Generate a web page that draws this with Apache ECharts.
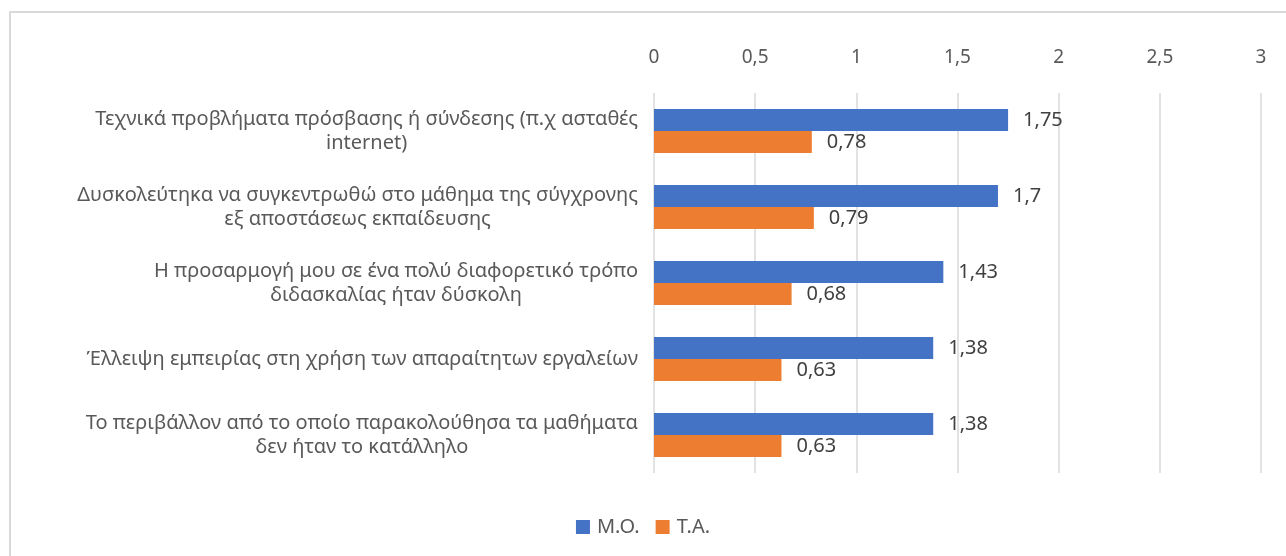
<!DOCTYPE html>
<html>
<head>
<meta charset="utf-8">
<script src="https://cdn.jsdelivr.net/npm/echarts@6/dist/echarts.min.js"></script>
<style>
  body { margin: 0; background: #fff; }
  #frame { position: absolute; left: 9px; top: 11px; right: 0; bottom: 0; border-top: 2px solid #d9d9d9; border-left: 2px solid #d9d9d9; }
  #chart { position: absolute; left: 0; top: 0; width: 1286px; height: 556px; }
</style>
</head>
<body>
<div id="frame"></div>
<div id="chart"></div>
<script>
// κατηγορίες (από πάνω προς τα κάτω)
const categories = [
  'Τεχνικά προβλήματα πρόσβασης ή σύνδεσης (π.χ ασταθές\ninternet)',
  'Δυσκολεύτηκα να συγκεντρωθώ στο μάθημα της σύγχρονης\nεξ αποστάσεως εκπαίδευσης',
  'Η προσαρμογή μου σε ένα πολύ διαφορετικό τρόπο\nδιδασκαλίας ήταν δύσκολη',
  'Έλλειψη εμπειρίας στη χρήση των απαραίτητων εργαλείων',
  'Το περιβάλλον από το οποίο παρακολούθησα τα μαθήματα\nδεν ήταν το κατάλληλο'
]
const meanValues = [1.75, 1.7, 1.43, 1.38, 1.38]
const sdValues = [0.78, 0.79, 0.68, 0.63, 0.63]
const seriesNames = ['Μ.Ο.', 'Τ.Α.']

const font = 'Noto Sans'
const comma = v => String(v).replace('.', ',')

const myChart = echarts.init(document.getElementById('chart'))

const barLabel = {
  show: true,
  position: 'right',
  distance: 15,
  color: '#404040',
  fontFamily: font,
  fontSize: 20,
  formatter: p => comma(p.value)
}

const option = {
  animation: false,
  textStyle: { fontFamily: font },
  color: ['#4472C4', '#ED7D31'],
  grid: {
    left: 654,
    right: 25,
    top: 93,
    bottom: 83
  },
  legend: {
    data: seriesNames,
    bottom: 14,
    left: 'center',
    itemWidth: 14,
    itemHeight: 14,
    itemGap: 16,
    icon: 'rect',
    textStyle: { color: '#595959', fontSize: 20, fontFamily: font, padding: [0, 0, 0, 2] }
  },
  xAxis: {
    type: 'value',
    position: 'top',
    min: 0,
    max: 3,
    interval: 0.5,
    axisLine: { show: false },
    axisTick: { show: false },
    splitLine: { lineStyle: { color: '#d9d9d9', width: 1.5 } },
    axisLabel: {
      color: '#595959',
      fontSize: 19,
      fontFamily: font,
      margin: 26,
      formatter: v => comma(v)
    }
  },
  yAxis: {
    type: 'category',
    inverse: true,
    data: categories,
    axisLine: { show: false },
    axisTick: { show: false },
    axisLabel: {
      margin: 16,
      color: '#595959',
      fontSize: 20,
      fontFamily: font,
      lineHeight: 24,
      // κάθε γραμμή κεντραρισμένη όπως στο Excel
      formatter: v => v.split('\n').map(l => '{c|' + l + '}').join('\n'),
      rich: {
        c: { align: 'center', color: '#595959', fontSize: 20, fontFamily: font, lineHeight: 24 }
      }
    }
  },
  series: [
    {
      name: seriesNames[0],
      type: 'bar',
      data: meanValues,
      barWidth: 22,
      barGap: '0%',
      label: barLabel
    },
    {
      name: seriesNames[1],
      type: 'bar',
      data: sdValues,
      barWidth: 22,
      barGap: '0%',
      label: barLabel
    }
  ]
}

myChart.setOption(option)
</script>
</body>
</html>
